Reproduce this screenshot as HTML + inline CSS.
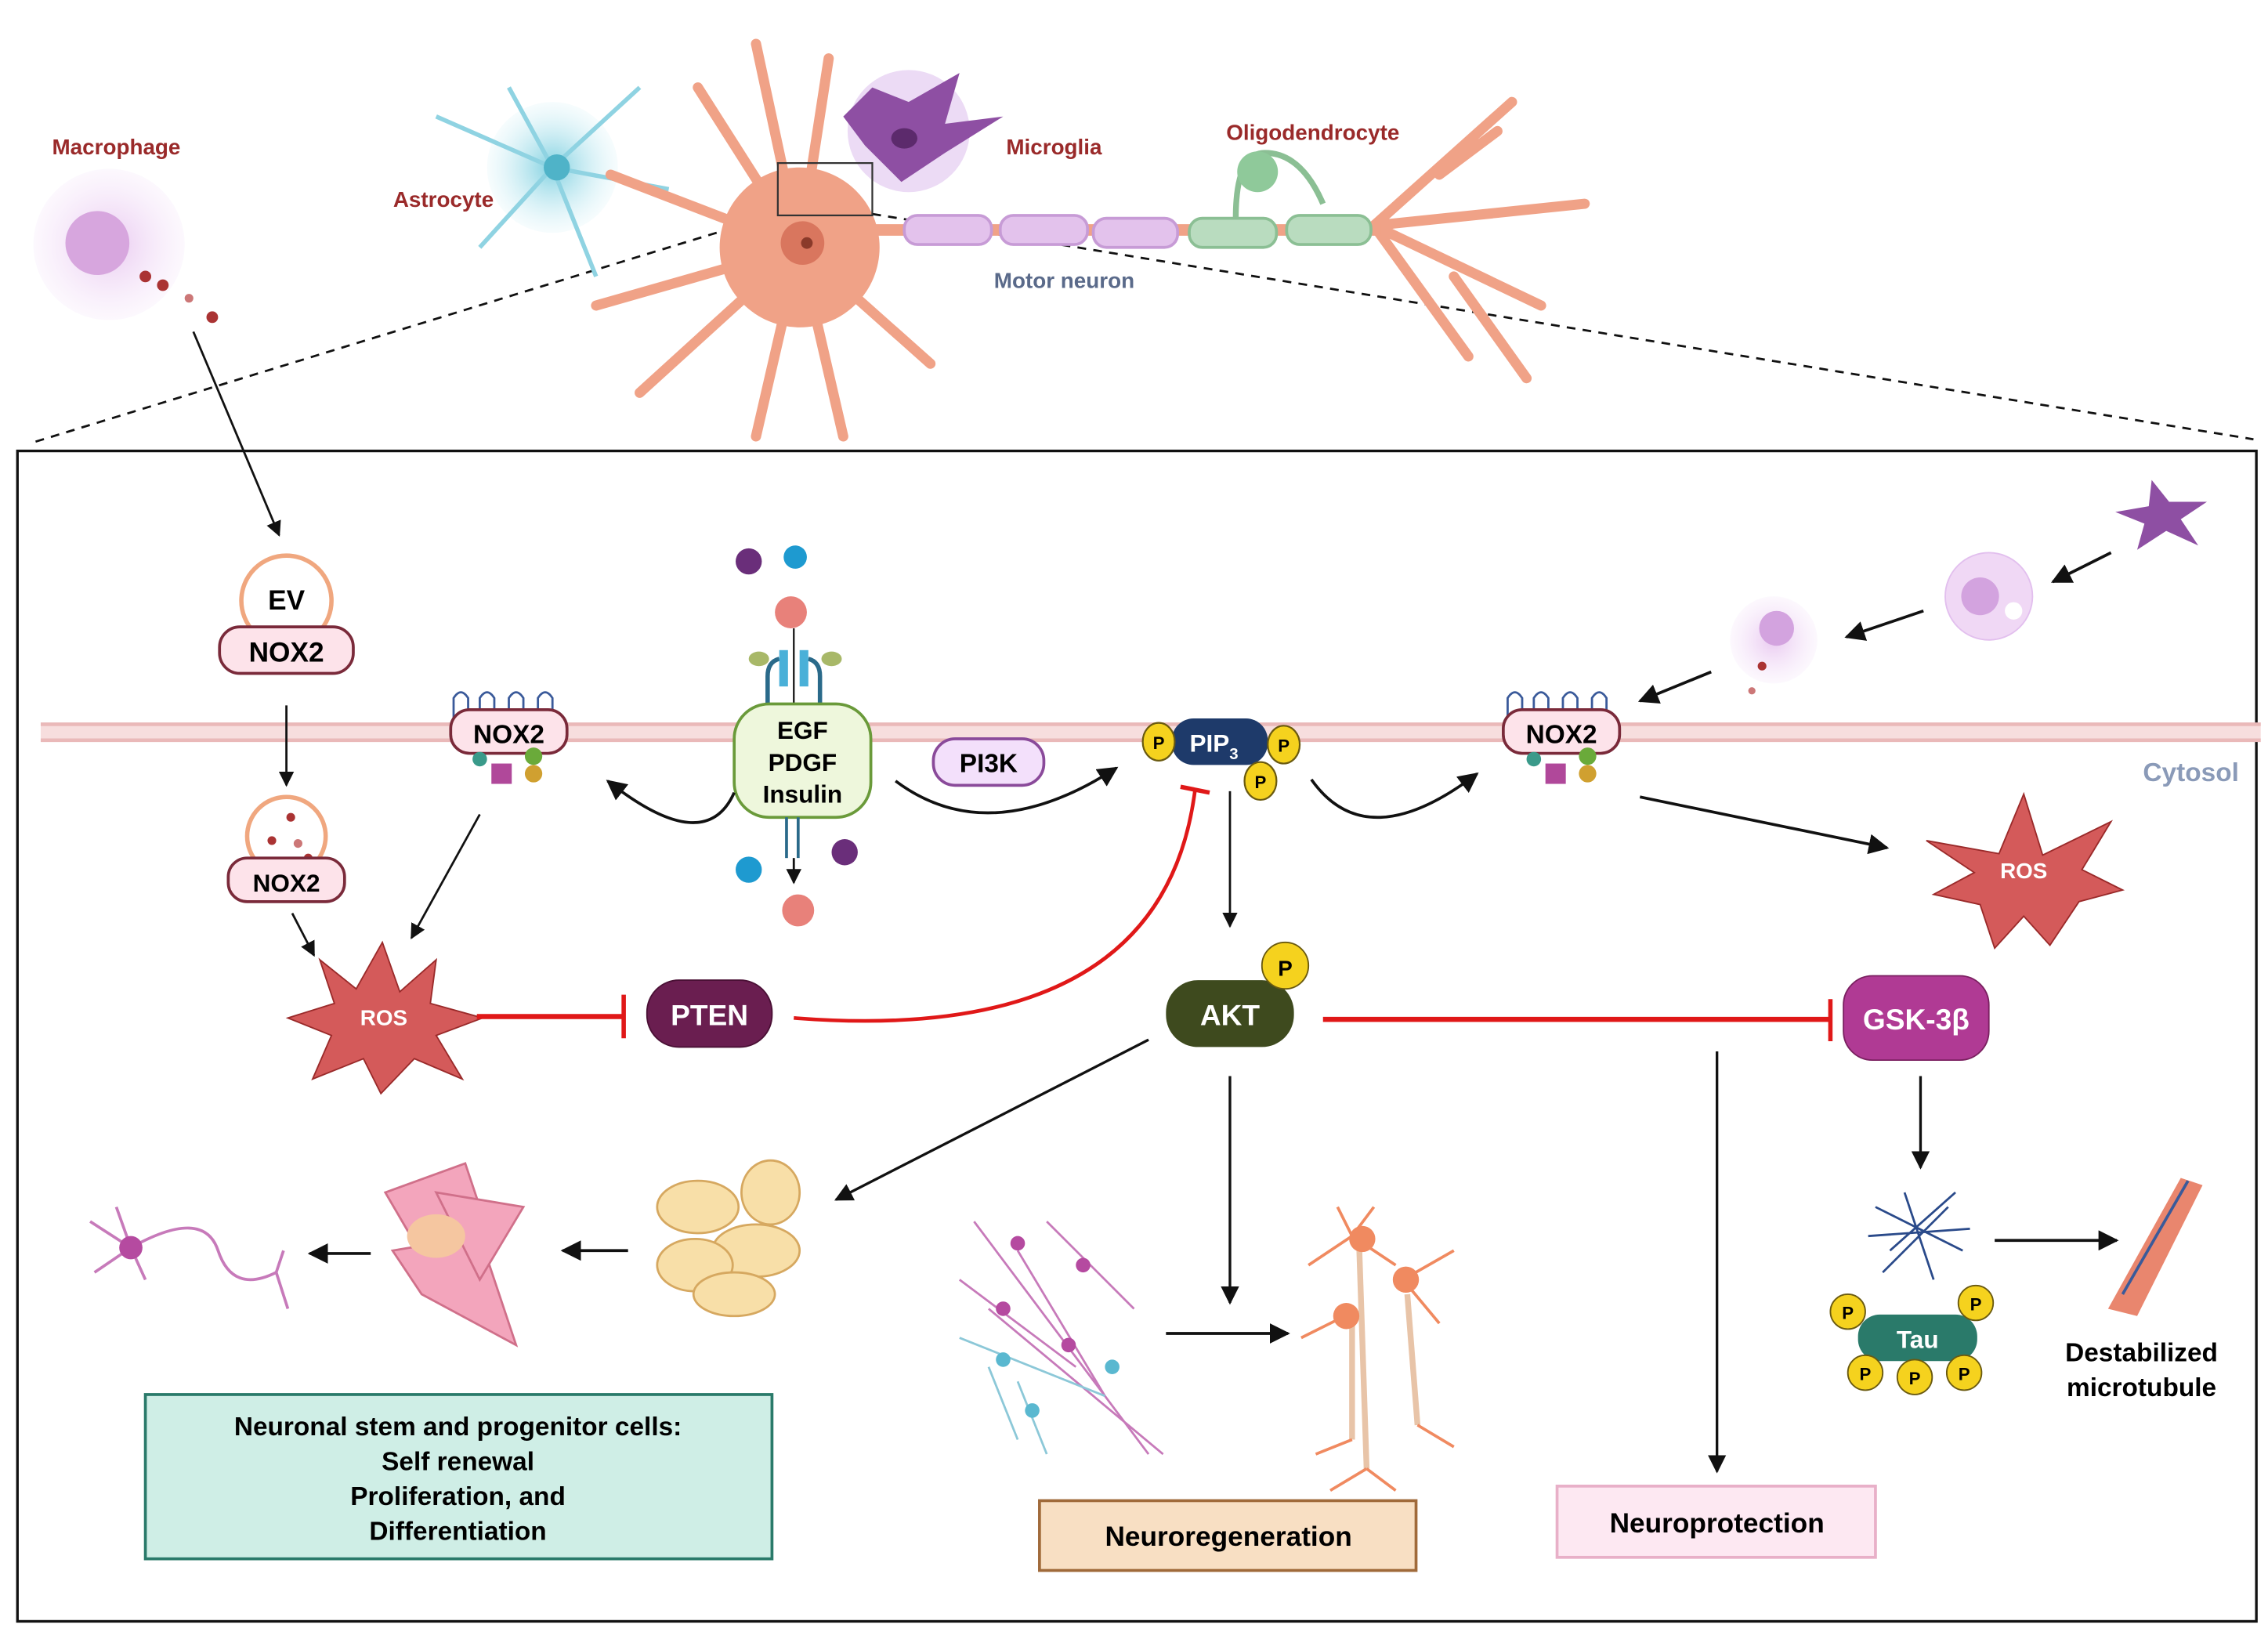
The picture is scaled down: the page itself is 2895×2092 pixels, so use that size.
<!DOCTYPE html>
<html><head><meta charset="utf-8"><style>
html,body{margin:0;padding:0;background:#fff}
svg{display:block}
text{font-family:"Liberation Sans",sans-serif;font-weight:bold}
</style></head><body>
<svg width="2895" height="2092" viewBox="0 0 1560 1127" xmlns="http://www.w3.org/2000/svg">
<defs>
<marker id="a" viewBox="0 0 10 10" refX="9" refY="5" markerWidth="7" markerHeight="7" orient="auto"><path d="M0,0 L10,5 L0,10 z" fill="#111"/></marker>
<radialGradient id="gp"><stop offset="0" stop-color="#e9c9f0"/><stop offset="1" stop-color="#f6e8fa" stop-opacity="0.3"/></radialGradient>
<radialGradient id="gb"><stop offset="0" stop-color="#7fd0e0"/><stop offset="1" stop-color="#d5f1f7" stop-opacity="0.2"/></radialGradient>
</defs>
<!-- dashed -->
<line x1="535" y1="147" x2="20" y2="305" stroke="#111" stroke-width="1.5" stroke-dasharray="6,5"/>
<line x1="600" y1="147" x2="1550" y2="302" stroke="#111" stroke-width="1.5" stroke-dasharray="6,5"/>
<!-- top cells -->
<circle cx="75" cy="168" r="52" fill="url(#gp)"/><circle cx="67" cy="167" r="22" fill="#d7a6de"/>
<circle cx="100" cy="190" r="4" fill="#a33"/><circle cx="112" cy="196" r="4" fill="#a33"/><circle cx="130" cy="205" r="3" fill="#c77"/><circle cx="146" cy="218" r="4" fill="#a33"/>
<circle cx="380" cy="115" r="45" fill="url(#gb)"/><g stroke="#8fd3e2" stroke-width="3" fill="none"><path d="M380 115 L300 80 M380 115 L350 60 M380 115 L440 60 M380 115 L460 130 M380 115 L410 190 M380 115 L330 170"/></g><circle cx="383" cy="115" r="9" fill="#4fb3c8"/>
<g stroke="#f0a287" stroke-width="7" fill="none" stroke-linecap="round">
<path d="M550 170 L520 30 M550 170 L480 60 M550 170 L420 120 M550 170 L410 210 M550 170 L440 270 M550 170 L520 300 M550 170 L580 300 M550 170 L640 250 M550 170 L570 40"/>
<path d="M945 155 L1040 70 M945 155 L1090 140 M945 155 L1060 210 M945 155 L1010 245 M990 120 L1030 90 M1000 190 L1050 260"/>
</g>
<circle cx="550" cy="170" r="55" fill="#f0a287"/><circle cx="552" cy="167" r="15" fill="#d9765e"/><circle cx="555" cy="167" r="4" fill="#8a3a2a"/>
<line x1="600" y1="158" x2="950" y2="158" stroke="#f0a287" stroke-width="8"/>
<g fill="#e3c2ec" stroke="#c79bd6" stroke-width="2"><rect x="622" y="148" width="60" height="20" rx="9"/><rect x="688" y="148" width="60" height="20" rx="9"/><rect x="752" y="150" width="58" height="20" rx="9"/></g>
<g fill="#b9dcbf" stroke="#8bbf94" stroke-width="2"><rect x="818" y="150" width="60" height="20" rx="9"/><rect x="885" y="148" width="58" height="20" rx="9"/></g>
<path d="M850 150 Q850 105 870 105 Q895 105 910 140" fill="none" stroke="#8bbf94" stroke-width="4"/><circle cx="865" cy="118" r="14" fill="#8fc99a"/>
<circle cx="625" cy="90" r="42" fill="#e0c3ef" opacity="0.6"/><path d="M600 60 L625 70 L660 50 L650 85 L690 80 L650 105 L620 125 L595 100 L580 80 Z" fill="#8e4fa3"/><ellipse cx="622" cy="95" rx="9" ry="7" fill="#5c2a6c"/>
<rect x="535" y="112" width="65" height="36" fill="none" stroke="#333" stroke-width="1.2"/>
<text x="80" y="106" font-size="15" fill="#9a2a2a" text-anchor="middle">Macrophage</text>
<text x="305" y="142" font-size="15" fill="#9a2a2a" text-anchor="middle">Astrocyte</text>
<text x="725" y="106" font-size="15" fill="#9a2a2a" text-anchor="middle">Microglia</text>
<text x="903" y="96" font-size="15" fill="#9a2a2a" text-anchor="middle">Oligodendrocyte</text>
<text x="732" y="198" font-size="15" fill="#5a6a8a" text-anchor="middle">Motor neuron</text>
<!-- main box -->
<rect x="12" y="310" width="1540" height="805" fill="none" stroke="#111" stroke-width="1.8"/>
<line x1="133" y1="228" x2="192" y2="368" stroke="#111" stroke-width="1.5" marker-end="url(#a)"/>
<!-- membrane -->
<rect x="28" y="497" width="1527" height="12" fill="#f7dede"/>
<line x1="28" y1="498" x2="1555" y2="498" stroke="#eab9b9" stroke-width="2.5"/>
<line x1="28" y1="509" x2="1555" y2="509" stroke="#eab9b9" stroke-width="2.5"/>
<text x="1540" y="537" font-size="18" fill="#8a9ab8" text-anchor="end" font-weight="normal">Cytosol</text>
<!-- EV -->
<circle cx="197" cy="413" r="31" fill="#fff" stroke="#f0a77f" stroke-width="3"/>
<text x="197" y="419" font-size="19" text-anchor="middle">EV</text>
<rect x="151" y="431" width="92" height="32" rx="14" fill="#fde3ea" stroke="#7a2a3a" stroke-width="2"/>
<text x="197" y="455" font-size="19" text-anchor="middle">NOX2</text>
<line x1="197" y1="485" x2="197" y2="540" stroke="#111" stroke-width="1.5" marker-end="url(#a)"/>
<circle cx="197" cy="575" r="27" fill="#fff" stroke="#f0a77f" stroke-width="3"/>
<circle cx="200" cy="562" r="3" fill="#a33"/><circle cx="187" cy="578" r="3" fill="#a33"/><circle cx="205" cy="580" r="3" fill="#c77"/><circle cx="212" cy="590" r="3" fill="#a33"/>
<rect x="157" y="590" width="80" height="30" rx="13" fill="#fde3ea" stroke="#7a2a3a" stroke-width="2"/>
<text x="197" y="613" font-size="17" text-anchor="middle">NOX2</text>
<line x1="201" y1="628" x2="216" y2="657" stroke="#111" stroke-width="1.5" marker-end="url(#a)"/>
<!-- NOX2 membrane left -->
<g stroke="#3a5a9a" stroke-width="1.5" fill="none"><path d="M312 500 v-20 q5 -8 10 0 v20 M330 500 v-20 q5 -8 10 0 v20 M350 500 v-20 q5 -8 10 0 v20 M370 500 v-20 q5 -8 10 0 v20"/></g>
<rect x="310" y="488" width="80" height="30" rx="13" fill="#fde3ea" stroke="#7a2a3a" stroke-width="2"/>
<text x="350" y="511" font-size="18" text-anchor="middle">NOX2</text>
<rect x="338" y="525" width="14" height="14" fill="#b0489a"/><circle cx="330" cy="522" r="5" fill="#3a9a8a"/><circle cx="367" cy="520" r="6" fill="#6aaa3a"/><circle cx="367" cy="532" r="6" fill="#d0a030"/>
<!-- NOX2 right -->
<g stroke="#3a5a9a" stroke-width="1.5" fill="none"><path d="M1037 500 v-20 q5 -8 10 0 v20 M1055 500 v-20 q5 -8 10 0 v20 M1075 500 v-20 q5 -8 10 0 v20 M1095 500 v-20 q5 -8 10 0 v20"/></g>
<rect x="1034" y="488" width="80" height="30" rx="13" fill="#fde3ea" stroke="#7a2a3a" stroke-width="2"/>
<text x="1074" y="511" font-size="18" text-anchor="middle">NOX2</text>
<rect x="1063" y="525" width="14" height="14" fill="#b0489a"/><circle cx="1055" cy="522" r="5" fill="#3a9a8a"/><circle cx="1092" cy="520" r="6" fill="#6aaa3a"/><circle cx="1092" cy="532" r="6" fill="#d0a030"/>
<line x1="330" y1="560" x2="283" y2="645" stroke="#111" stroke-width="1.5" marker-end="url(#a)"/>
<!-- ligands -->
<circle cx="515" cy="386" r="9" fill="#6a2e7a"/><circle cx="547" cy="383" r="8" fill="#1e9ad0"/><circle cx="544" cy="421" r="11" fill="#e8817a"/>
<line x1="546" y1="432" x2="546" y2="490" stroke="#111" stroke-width="1.2"/>
<path d="M528 490 v-25 q0-10 8-12 M564 490 v-25 q0-10 -8-12" stroke="#2a6a8a" stroke-width="3" fill="none"/>
<rect x="536" y="447" width="6" height="25" fill="#4ab0d8"/><rect x="550" y="447" width="6" height="25" fill="#4ab0d8"/>
<ellipse cx="522" cy="453" rx="7" ry="5" fill="#a8b868"/><ellipse cx="572" cy="453" rx="7" ry="5" fill="#a8b868"/>
<rect x="505" y="484" width="94" height="78" rx="24" fill="#eef7dc" stroke="#6a9a3a" stroke-width="2"/>
<text x="552" y="508" font-size="17" text-anchor="middle">EGF</text>
<text x="552" y="530" font-size="17" text-anchor="middle">PDGF</text>
<text x="552" y="552" font-size="17" text-anchor="middle">Insulin</text>
<line x1="541" y1="562" x2="541" y2="590" stroke="#2a6a8a" stroke-width="2"/><line x1="549" y1="562" x2="549" y2="590" stroke="#2a6a8a" stroke-width="2"/>
<line x1="546" y1="590" x2="546" y2="607" stroke="#111" stroke-width="1.5" marker-end="url(#a)"/>
<circle cx="515" cy="598" r="9" fill="#1e9ad0"/><circle cx="581" cy="586" r="9" fill="#6a2e7a"/><circle cx="549" cy="626" r="11" fill="#e8817a"/>
<path d="M505 545 Q485 590 418 537" fill="none" stroke="#111" stroke-width="2" marker-end="url(#a)"/>
<path d="M616 537 Q680 585 768 528" fill="none" stroke="#111" stroke-width="2" marker-end="url(#a)"/>
<rect x="642" y="508" width="76" height="32" rx="15" fill="#f3e0fb" stroke="#8a4a9a" stroke-width="2"/>
<text x="680" y="531" font-size="18" text-anchor="middle">PI3K</text>
<!-- PIP3 -->
<rect x="806" y="494" width="66" height="32" rx="15" fill="#1e3a6a"/>
<text x="835" y="517" font-size="17" fill="#fff" text-anchor="middle">PIP<tspan font-size="11" dy="5">3</tspan></text>
<g fill="#f5d21e" stroke="#6a5a10" stroke-width="1.2"><ellipse cx="797" cy="510" rx="11" ry="13"/><ellipse cx="883" cy="512" rx="11" ry="13"/><ellipse cx="867" cy="537" rx="11" ry="13"/></g>
<g font-size="12" text-anchor="middle"><text x="797" y="515">P</text><text x="883" y="517">P</text><text x="867" y="542">P</text></g>
<path d="M902 536 Q940 590 1016 532" fill="none" stroke="#111" stroke-width="2" marker-end="url(#a)"/>
<line x1="1128" y1="548" x2="1298" y2="583" stroke="#111" stroke-width="2" marker-end="url(#a)"/>
<line x1="846" y1="544" x2="846" y2="637" stroke="#111" stroke-width="1.5" marker-end="url(#a)"/>
<!-- right cells -->
<path d="M1480 330 L1492 345 L1518 345 L1500 357 L1512 375 L1490 365 L1470 378 L1475 360 L1455 352 L1478 348 Z" fill="#8e4fa3"/>
<line x1="1452" y1="380" x2="1412" y2="400" stroke="#111" stroke-width="2" marker-end="url(#a)"/>
<circle cx="1368" cy="410" r="30" fill="#f0d8f5" stroke="#e2bfee"/><circle cx="1362" cy="410" r="13" fill="#d3a3df"/><circle cx="1385" cy="420" r="6" fill="#fff"/>
<line x1="1323" y1="420" x2="1270" y2="438" stroke="#111" stroke-width="2" marker-end="url(#a)"/>
<circle cx="1220" cy="440" r="30" fill="url(#gp)"/><circle cx="1222" cy="432" r="12" fill="#d3a3df"/><circle cx="1212" cy="458" r="3" fill="#a33"/><circle cx="1205" cy="475" r="2.5" fill="#c77"/>
<line x1="1177" y1="462" x2="1128" y2="482" stroke="#111" stroke-width="2" marker-end="url(#a)"/>
<!-- ROS shapes -->
<polygon points="1392,546 1405,588 1452,565 1432,598 1460,612 1430,620 1410,650 1392,630 1372,652 1362,622 1330,615 1358,600 1325,578 1375,587" fill="#d45a5a" stroke="#9a2a2a"/>
<text x="1392" y="604" font-size="15" fill="#fff" text-anchor="middle">ROS</text>
<polygon points="263,648 275,682 300,660 296,690 332,700 300,712 318,742 285,728 262,752 250,728 215,742 228,712 198,700 230,690 220,660 245,680" fill="#d45a5a" stroke="#9a2a2a"/>
<text x="264" y="705" font-size="15" fill="#fff" text-anchor="middle">ROS</text>
<!-- inhibitions -->
<line x1="328" y1="699" x2="428" y2="699" stroke="#e01818" stroke-width="3.5"/><line x1="429" y1="684" x2="429" y2="714" stroke="#e01818" stroke-width="3"/>
<rect x="445" y="674" width="86" height="46" rx="22" fill="#6a1e50" stroke="#4a1035"/>
<text x="488" y="705" font-size="20" fill="#fff" text-anchor="middle">PTEN</text>
<path d="M546 700 Q800 720 822 543" fill="none" stroke="#e01818" stroke-width="2.5"/><line x1="812" y1="541" x2="832" y2="545" stroke="#e01818" stroke-width="3"/>
<rect x="802" y="674" width="88" height="46" rx="22" fill="#3e4a1e"/>
<text x="846" y="705" font-size="20" fill="#fff" text-anchor="middle">AKT</text>
<circle cx="884" cy="664" r="16" fill="#f5d21e" stroke="#6a5a10"/><text x="884" y="671" font-size="15" text-anchor="middle">P</text>
<line x1="910" y1="701" x2="1258" y2="701" stroke="#e01818" stroke-width="3.5"/><line x1="1259" y1="687" x2="1259" y2="716" stroke="#e01818" stroke-width="3"/>
<rect x="1268" y="671" width="100" height="58" rx="20" fill="#b03a94" stroke="#7a2060"/>
<text x="1318" y="708" font-size="20" fill="#fff" text-anchor="middle">GSK-3β</text>
<!-- lower arrows -->
<line x1="790" y1="715" x2="575" y2="825" stroke="#111" stroke-width="1.8" marker-end="url(#a)"/>
<line x1="846" y1="740" x2="846" y2="896" stroke="#111" stroke-width="1.8" marker-end="url(#a)"/>
<line x1="1181" y1="723" x2="1181" y2="1012" stroke="#111" stroke-width="1.8" marker-end="url(#a)"/>
<line x1="1321" y1="740" x2="1321" y2="803" stroke="#111" stroke-width="1.8" marker-end="url(#a)"/>
<line x1="432" y1="860" x2="387" y2="860" stroke="#111" stroke-width="2" marker-end="url(#a)"/>
<line x1="255" y1="862" x2="213" y2="862" stroke="#111" stroke-width="2" marker-end="url(#a)"/>
<line x1="802" y1="917" x2="886" y2="917" stroke="#111" stroke-width="2" marker-end="url(#a)"/>
<line x1="1372" y1="853" x2="1456" y2="853" stroke="#111" stroke-width="2" marker-end="url(#a)"/>
<!-- cell clusters -->
<g fill="#f8dfa8" stroke="#d6a860" stroke-width="1.5"><ellipse cx="480" cy="830" rx="28" ry="18"/><ellipse cx="520" cy="860" rx="30" ry="18"/><ellipse cx="478" cy="870" rx="26" ry="18"/><ellipse cx="530" cy="820" rx="20" ry="22"/><ellipse cx="505" cy="890" rx="28" ry="15"/></g>
<g fill="#f3a5bc" stroke="#d0708a" stroke-width="1.5"><polygon points="265,820 320,800 340,860 300,880"/><polygon points="270,860 330,850 355,925 290,890"/><polygon points="300,820 360,830 330,880"/></g>
<ellipse cx="300" cy="850" rx="20" ry="15" fill="#f5c6a0"/>
<g stroke="#c77aba" stroke-width="2" fill="none"><path d="M90 858 L62 840 M90 858 L65 875 M90 858 L80 830 M90 858 L100 880 M90 858 Q140 830 150 860 Q160 890 190 875 M190 875 L195 860 M190 875 L198 900"/></g><circle cx="90" cy="858" r="8" fill="#b54aa0"/>
<g stroke="#c77aba" stroke-width="1.5" fill="none"><path d="M670 840 L790 1000 M700 860 L760 960 M680 900 L800 1000 M660 880 L740 940 M720 840 L780 900"/></g>
<g stroke="#8cc8d8" stroke-width="1.5" fill="none"><path d="M660 920 L760 960 M700 950 L720 1000 M680 940 L700 990"/></g>
<g fill="#b54aa0"><circle cx="700" cy="855" r="5"/><circle cx="690" cy="900" r="5"/><circle cx="735" cy="925" r="5"/><circle cx="745" cy="870" r="5"/></g>
<g fill="#5ab8d0"><circle cx="690" cy="935" r="5"/><circle cx="710" cy="970" r="5"/><circle cx="765" cy="940" r="5"/></g>
<g stroke="#f08a60" stroke-width="2" fill="none"><path d="M930 850 L920 830 M930 850 L945 830 M930 850 L960 870 M930 850 L900 870 M965 880 L1000 860 M965 880 L990 910 M925 905 L895 920"/></g>
<g stroke="#e8c4a8" stroke-width="4"><line x1="935" y1="860" x2="940" y2="1010"/><line x1="968" y1="890" x2="975" y2="980"/><line x1="930" y1="905" x2="930" y2="990"/></g>
<g fill="#f08a60"><circle cx="937" cy="852" r="9"/><circle cx="967" cy="880" r="9"/><circle cx="926" cy="905" r="9"/></g>
<g stroke="#f08a60" stroke-width="2" fill="none"><path d="M940 1010 L915 1025 M940 1010 L960 1025 M975 980 L1000 995 M930 990 L905 1000"/></g>
<!-- tau -->
<g stroke="#2a4a8a" stroke-width="1.5" fill="none"><path d="M1290 830 L1350 860 M1300 860 L1345 820 M1285 850 L1355 845 M1310 820 L1330 880 M1295 875 L1340 830"/></g>
<rect x="1278" y="904" width="82" height="32" rx="15" fill="#2a7a6a"/>
<text x="1319" y="927" font-size="17" fill="#fff" text-anchor="middle">Tau</text>
<g fill="#f5d21e" stroke="#6a5a10"><circle cx="1271" cy="902" r="12"/><circle cx="1359" cy="896" r="12"/><circle cx="1283" cy="944" r="12"/><circle cx="1317" cy="947" r="12"/><circle cx="1351" cy="944" r="12"/></g>
<g font-size="12" text-anchor="middle"><text x="1271" y="907">P</text><text x="1359" y="901">P</text><text x="1283" y="949">P</text><text x="1317" y="952">P</text><text x="1351" y="949">P</text></g>
<path d="M1450 900 L1500 810 L1515 815 L1470 905 Z" fill="#e9866e"/><path d="M1460 890 L1505 812" stroke="#3a5a9a" stroke-width="2"/>
<text x="1473" y="936" font-size="18" text-anchor="middle">Destabilized</text>
<text x="1473" y="960" font-size="18" text-anchor="middle">microtubule</text>
<!-- boxes -->
<rect x="100" y="959" width="431" height="113" fill="#cfeee6" stroke="#2a7a6a" stroke-width="2"/>
<g font-size="18" text-anchor="middle"><text x="315" y="987">Neuronal stem and progenitor cells:</text><text x="315" y="1011">Self renewal</text><text x="315" y="1035">Proliferation, and</text><text x="315" y="1059">Differentiation</text></g>
<rect x="715" y="1032" width="259" height="48" fill="#f8dfc3" stroke="#a06a3a" stroke-width="2"/>
<text x="845" y="1063" font-size="19" text-anchor="middle">Neuroregeneration</text>
<rect x="1071" y="1022" width="219" height="49" fill="#fde8f2" stroke="#e8b0c8" stroke-width="2"/>
<text x="1181" y="1054" font-size="19" text-anchor="middle">Neuroprotection</text>
</svg>
</body></html>
